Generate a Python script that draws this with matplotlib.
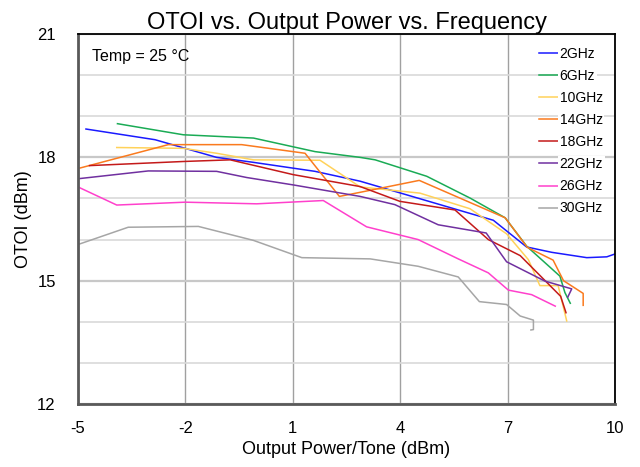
import matplotlib
matplotlib.use('Agg')
import matplotlib.pyplot as plt
from matplotlib.ticker import MultipleLocator, FixedLocator

plt.rcParams['font.family'] = ['Liberation Sans', 'DejaVu Sans']
plt.rcParams['axes.unicode_minus'] = False

labels = ['2GHz', '6GHz', '10GHz', '14GHz', '18GHz', '22GHz', '26GHz', '30GHz']
colors = ['#1a1aff', '#1aab55', '#ffd25a', '#fa7a1e', '#c41a1a', '#7030a0', '#ff40cc', '#a6a6a6']
x_ticks = [-5, -2, 1, 4, 7, 10]

x_2g = [-4.78, -2.85, -1.13, -0.11, 1.62, 2.88, 6.6, 7.53, 8.23, 9.21, 9.77, 10.0]
y_2g = [18.69, 18.43, 18.0, 17.88, 17.66, 17.42, 16.47, 15.82, 15.69, 15.56, 15.58, 15.65]

x_6g = [-3.9, -2.06, -0.1, 1.62, 2.88, 3.3, 4.74, 5.95, 6.93, 7.53, 8.46, 8.6, 8.75]
y_6g = [18.82, 18.55, 18.47, 18.14, 18.0, 17.94, 17.54, 17.01, 16.53, 15.84, 15.11, 14.71, 14.45]

x_10g = [-3.92, -2.06, -1.13, -0.1, 1.76, 2.88, 4.55, 5.95, 6.97, 7.58, 7.9, 8.41, 8.65]
y_10g = [18.24, 18.22, 18.1, 17.94, 17.93, 17.28, 17.13, 16.75, 16.14, 15.51, 14.88, 14.88, 14.02]

x_14g = [-4.95, -2.48, -0.43, 1.34, 2.3, 2.88, 4.53, 6.93, 7.55, 8.27, 8.56, 9.11, 9.11]
y_14g = [17.74, 18.31, 18.31, 18.1, 17.05, 17.15, 17.44, 16.53, 15.81, 15.5, 15.0, 14.69, 14.4]

x_18g = [-4.68, -2.06, -0.75, 1.01, 2.88, 3.99, 5.53, 6.46, 7.35, 8.48, 8.63]
y_18g = [17.8, 17.9, 17.94, 17.58, 17.29, 16.93, 16.72, 16.0, 15.61, 14.62, 14.22]

x_22g = [-5.0, -3.04, -1.13, -0.29, 1.01, 2.88, 3.85, 5.06, 6.4, 6.97, 8.04, 8.79, 8.68]
y_22g = [17.48, 17.67, 17.66, 17.51, 17.33, 17.05, 16.85, 16.36, 16.16, 15.46, 14.99, 14.8, 14.6]

x_26g = [-5.0, -3.92, -2.01, -0.01, 1.85, 3.06, 4.5, 5.62, 6.46, 7.02, 7.67, 8.33]
y_26g = [17.28, 16.84, 16.91, 16.87, 16.95, 16.31, 16.0, 15.53, 15.19, 14.77, 14.66, 14.38]

x_30g = [-5.0, -3.6, -1.64, -0.1, 1.25, 3.16, 4.5, 5.62, 6.21, 6.97, 7.35, 7.72, 7.72, 7.65]
y_30g = [15.88, 16.3, 16.32, 15.98, 15.56, 15.53, 15.35, 15.09, 14.49, 14.42, 14.14, 14.04, 13.81, 13.8]

xs = [x_2g, x_6g, x_10g, x_14g, x_18g, x_22g, x_26g, x_30g]
ys = [y_2g, y_6g, y_10g, y_14g, y_18g, y_22g, y_26g, y_30g]

fig = plt.figure(figsize=(6.4, 4.67), dpi=100)
ax = fig.add_axes([0.122, 0.135, 0.839, 0.792])

for x, y, c, lab in zip(xs, ys, colors, labels):
    ax.plot(x, y, color=c, lw=1.1, label=lab)

ax.set_xlim(-5, 10)
ax.set_ylim(12, 21)
ax.xaxis.set_major_locator(FixedLocator(x_ticks))
ax.yaxis.set_major_locator(MultipleLocator(3))
ax.yaxis.set_minor_locator(MultipleLocator(1))
ax.grid(True, axis='x', which='major', color='#a0a0a0', lw=1.0)
ax.grid(True, axis='y', which='major', color='#c8c8c8', lw=1.6)
ax.grid(True, axis='y', which='minor', color='#d9d9d9', lw=1.2)
ax.set_axisbelow(True)
ax.tick_params(which='both', length=0, labelsize=12)
ax.tick_params(axis='y', pad=16)
ax.tick_params(axis='x', pad=12)

for s in ['left', 'bottom']:
    ax.spines[s].set_color('#595959')
    ax.spines[s].set_linewidth(2)
for s in ['top', 'right']:
    ax.spines[s].set_color('black')
    ax.spines[s].set_linewidth(1.3)

ax.set_title('OTOI vs. Output Power vs. Frequency', fontsize=17, pad=4)
ax.set_xlabel('Output Power/Tone (dBm)', fontsize=13, labelpad=4)
ax.set_ylabel('OTOI (dBm)', fontsize=13, labelpad=4)

ax.text(0.026, 0.94, 'Temp = 25 °C', transform=ax.transAxes, fontsize=11.5, va='center', ha='left')

leg = ax.legend(loc='upper left', bbox_to_anchor=(0.858, 0.965), frameon=False, fontsize=10,
                handlelength=1.4, handletextpad=0.1, labelspacing=0.58, borderpad=0, borderaxespad=0)
for t in leg.get_texts():
    t.set_bbox(dict(facecolor='white', edgecolor='none', pad=1))

fig.savefig('out.png', dpi=100)
